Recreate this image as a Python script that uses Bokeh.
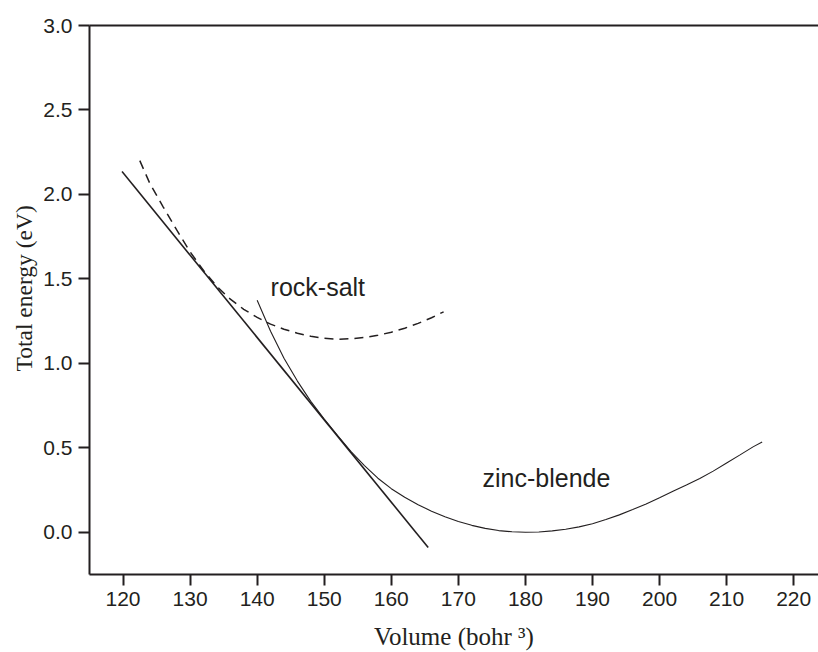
from bokeh.plotting import figure
from bokeh.models import LinearAxis, FixedTicker, Label, Range1d, Title
from bokeh.embed import file_html
from bokeh.resources import INLINE

# ---- data ----
x_ticks = [120, 130, 140, 150, 160, 170, 180, 190, 200, 210, 220]
y_ticks = [0.0, 0.5, 1.0, 1.5, 2.0, 2.5, 3.0]

tangent_v = [119.85, 165.5]
tangent_e = [2.135, -0.09]

rocksalt_v = [122.5, 124, 126, 128, 130, 132, 134, 136, 138, 140, 142, 144,
              146, 148, 150, 152, 154, 156, 158, 160, 162, 164, 166, 167.8]
rocksalt_e = [2.20, 2.065, 1.925, 1.79, 1.66, 1.55, 1.455, 1.38, 1.32, 1.272,
              1.232, 1.202, 1.178, 1.16, 1.148, 1.143, 1.1456, 1.1534, 1.166,
              1.1846, 1.208, 1.2366, 1.270, 1.305]

zinc_v = [140, 142, 144, 146, 148, 150, 152, 154, 156, 158, 160, 162, 164, 166,
          168, 170, 172, 174, 176, 178, 180, 182, 184, 186, 188, 190, 192, 194,
          196, 198, 200, 202, 204, 206, 208, 210, 212, 214, 215.3]
zinc_e = [1.373, 1.19, 1.03, 0.895, 0.775, 0.67, 0.572, 0.478, 0.395, 0.32,
          0.258, 0.207, 0.163, 0.125, 0.092, 0.064, 0.041, 0.023, 0.01, 0.003,
          0.0, 0.002, 0.008, 0.018, 0.032, 0.05, 0.075, 0.103, 0.135, 0.168,
          0.204, 0.243, 0.28, 0.318, 0.362, 0.41, 0.458, 0.507, 0.535]

labels_text = ["rock-salt", "zinc-blende"]
labels_x = [142.0, 173.6]
labels_y = [1.454, 0.322]

x_title = "Volume (bohr \u00b3)"
y_title = "Total energy (eV)"

INK = "#231f20"

p = figure(width=818, height=652, output_backend="svg", toolbar_location=None,
           x_range=Range1d(115, 223.7), y_range=Range1d(-0.25, 3.0),
           min_border_left=89, min_border_right=0, min_border_top=25,
           min_border_bottom=77)
p.outline_line_color = None
p.grid.grid_line_color = None
p.background_fill_color = "white"
p.border_fill_color = "white"

for ax in (p.xaxis[0], p.yaxis[0]):
    ax.axis_line_color = INK
    ax.axis_line_width = 2
    ax.major_tick_line_color = INK
    ax.major_tick_line_width = 2
    ax.major_tick_out = 11
    ax.major_tick_in = 0
    ax.minor_tick_line_color = None
    ax.major_label_text_font = "Liberation Sans"
    ax.major_label_text_font_size = "21px"
    ax.major_label_text_color = INK

p.xaxis[0].ticker = FixedTicker(ticks=x_ticks)
p.yaxis[0].ticker = FixedTicker(ticks=y_ticks)
p.xaxis[0].major_label_standoff = 6
p.yaxis[0].major_label_standoff = 6
p.yaxis[0].major_label_overrides = {t: f"{t:.1f}" for t in y_ticks}

p.xaxis[0].axis_label = x_title
p.xaxis[0].axis_label_text_font = "Liberation Serif"
p.xaxis[0].axis_label_text_font_size = "25px"
p.xaxis[0].axis_label_text_font_style = "normal"
p.xaxis[0].axis_label_text_color = INK
p.xaxis[0].axis_label_standoff = 14

top = LinearAxis(ticker=FixedTicker(ticks=[]), axis_line_color=INK, axis_line_width=2,
                 major_tick_out=0, major_tick_in=0, minor_tick_line_color=None,
                 major_label_text_font_size="0px", major_label_standoff=0)
p.add_layout(top, "above")

ytitle = Title(text=y_title, align="left", offset=203, text_font="Liberation Serif",
               text_font_size="23.5px", text_font_style="normal", text_color=INK,
               standoff=8)
p.add_layout(ytitle, "left")

p.line(tangent_v, tangent_e, line_color=INK, line_width=1.6)
p.line(rocksalt_v, rocksalt_e, line_color=INK, line_width=1.5, line_dash="9 6")
p.line(zinc_v, zinc_e, line_color=INK, line_width=1.1)

for t, lx, ly in zip(labels_text, labels_x, labels_y):
    p.add_layout(Label(x=lx, y=ly, text=t, text_font="Liberation Sans",
                       text_font_size="25px", text_color=INK,
                       text_baseline="alphabetic", text_align="left"))

open("out.html", "w").write(file_html(p, INLINE))
